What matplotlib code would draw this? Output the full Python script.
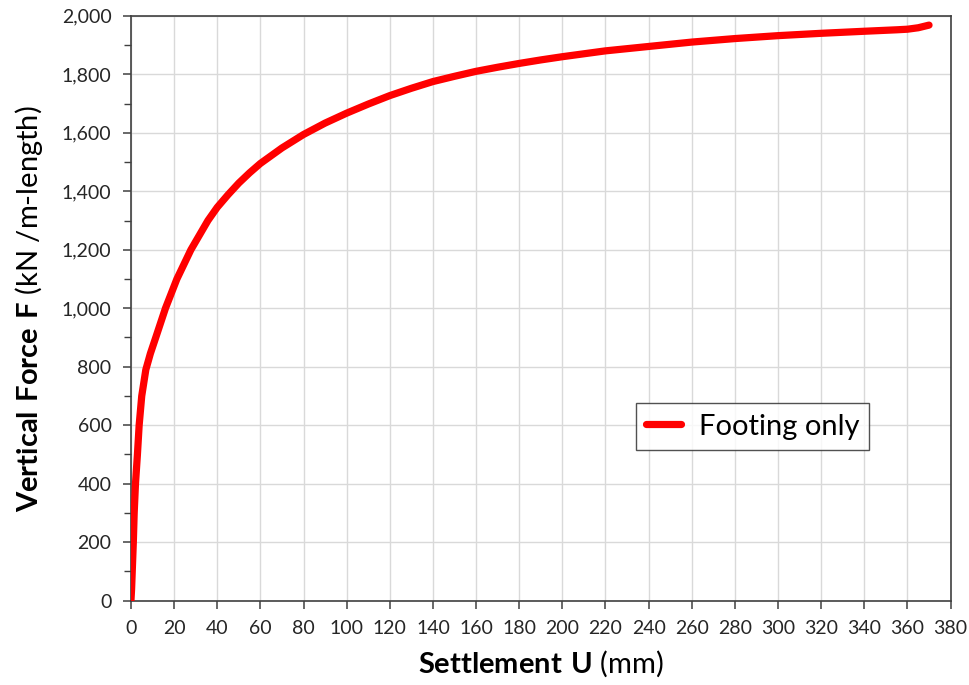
import matplotlib
matplotlib.use('Agg')
import matplotlib.pyplot as plt
from matplotlib.ticker import MultipleLocator, StrMethodFormatter

# 字体
plt.rcParams['font.family'] = ['Lato', 'DejaVu Sans']
plt.rcParams['mathtext.fontset'] = 'custom'
plt.rcParams['mathtext.rm'] = 'Lato'
plt.rcParams['mathtext.bf'] = 'Lato:bold'

# データ
settlement = [0, 0.3, 0.6, 1.1, 1.5, 2.1, 3.0, 3.8, 5.0, 6.9, 9.0, 11.5, 16.0, 21.3, 27.8,
              35.7, 40, 45, 50, 55, 60, 70, 80, 90, 100, 110, 120, 130, 140, 150, 160, 170,
              180, 190, 200, 220, 240, 260, 280, 300, 320, 340, 355, 360, 365, 370]
force = [0, 40, 100, 200, 300, 400, 500, 600, 700, 790, 845, 900, 1000, 1100, 1200,
         1300, 1345, 1388, 1428, 1463, 1495, 1548, 1594, 1633, 1667, 1698, 1727, 1752, 1775,
         1793, 1810, 1824, 1837, 1849, 1860, 1880, 1895, 1910, 1922, 1932, 1940, 1947, 1952,
         1954, 1959, 1968]
series_name = 'Footing only'

fig = plt.figure(figsize=(9.7, 6.85), dpi=100)
ax = fig.add_axes([0.135, 0.123, 0.845, 0.854])

ax.plot(settlement, force, color='#ff0000', lw=5.2, solid_capstyle='round',
        solid_joinstyle='round', label=series_name, zorder=3)

ax.set_xlim(0, 380)
ax.set_ylim(0, 2000)
ax.xaxis.set_major_locator(MultipleLocator(20))
ax.yaxis.set_major_locator(MultipleLocator(200))
ax.yaxis.set_minor_locator(MultipleLocator(100))
ax.yaxis.set_major_formatter(StrMethodFormatter('{x:,.0f}'))

ax.grid(True, which='major', color='#d9d9d9', lw=1.0)
ax.set_axisbelow(True)
for s in ax.spines.values():
    s.set_color('#404040')
    s.set_linewidth(1.2)

ax.tick_params(which='major', direction='out', length=6, width=1.1, color='#404040',
               labelsize=14, labelcolor='#262626', pad=8)
ax.tick_params(which='minor', direction='out', length=5, width=1.0, color='#404040')

ax.set_xlabel(r'$\bf{Settlement\ U}$ (mm)', fontsize=21, color='#000000', labelpad=8)
ax.set_ylabel(r'$\bf{Vertical\ Force\ F}$ (kN /m-length)', fontsize=21, color='#000000', labelpad=12)

leg = ax.legend(loc='lower left', bbox_to_anchor=(0.616, 0.258), fontsize=21,
                frameon=True, fancybox=False, handlelength=1.2, borderpad=0.35,
                handletextpad=0.6, borderaxespad=0)
leg.get_frame().set_edgecolor('#262626')
leg.get_frame().set_linewidth(1.0)

fig.savefig('out.png', dpi=100)
